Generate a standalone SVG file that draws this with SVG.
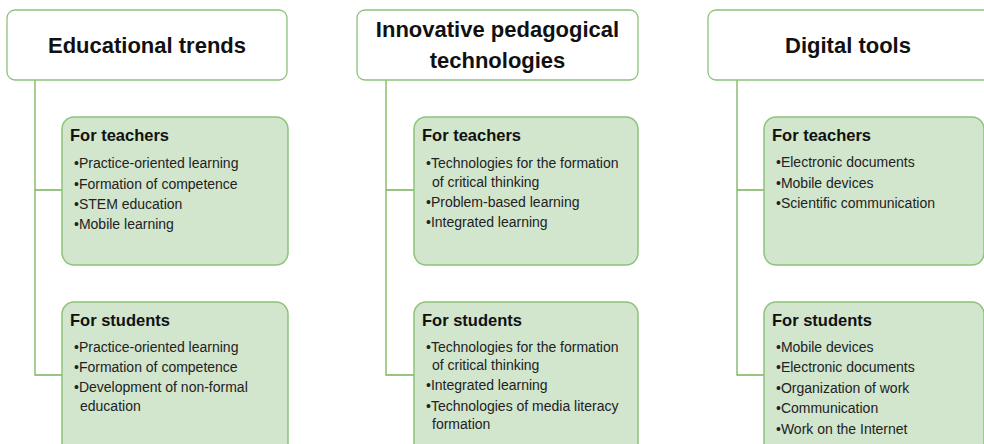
<svg xmlns="http://www.w3.org/2000/svg" width="984" height="444" viewBox="0 0 984 444">
<style>
.hdr{fill:#ffffff;stroke:#8cc27a;stroke-width:1.3}
.box{fill:#d2e5cd;stroke:#8cc27a;stroke-width:1.5}
.conn{fill:none;stroke:#78b35a;stroke-width:1.3}
.ht{font-family:"Liberation Sans",Arial,sans-serif;font-weight:bold;font-size:22px;fill:#111;text-anchor:middle}
.bt{font-family:"Liberation Sans",Arial,sans-serif;font-weight:bold;font-size:16.5px;fill:#111}
.it{font-family:"Liberation Sans",Arial,sans-serif;font-size:14px;fill:#222}
</style>
<rect width="984" height="444" fill="#ffffff"/>
<g id="connectors">
<path class="conn" d="M35 80 V375 H62 M35 190 H62"/>
<path class="conn" d="M386 80 V375 H414 M386 190 H414"/>
<path class="conn" d="M737 80 V375 H764 M737 190 H764"/>
</g>
<g id="h1">
<rect class="hdr" x="7" y="10" width="280" height="70" rx="8"/>
<text class="ht" x="147" y="53">Educational trends</text>
</g>
<g id="h2">
<rect class="hdr" x="357" y="10" width="281" height="70" rx="8"/>
<text class="ht" x="497.5" y="37">Innovative pedagogical</text>
<text class="ht" x="497.5" y="68">technologies</text>
</g>
<g id="h3">
<rect class="hdr" x="708" y="10" width="290" height="70" rx="8"/>
<text class="ht" x="848" y="53">Digital tools</text>
</g>
<g id="t1">
<rect class="box" x="62" y="117" width="226" height="148" rx="12"/>
<text class="bt" x="70" y="141">For teachers</text>
<text class="it" x="74" y="168">•Practice-oriented learning</text>
<text class="it" x="74" y="189">•Formation of competence</text>
<text class="it" x="74" y="209">•STEM education</text>
<text class="it" x="74" y="229">•Mobile learning</text>
</g>
<g id="s1">
<rect class="box" x="62" y="302" width="226" height="160" rx="12"/>
<text class="bt" x="70" y="326">For students</text>
<text class="it" x="74" y="352">•Practice-oriented learning</text>
<text class="it" x="74" y="372">•Formation of competence</text>
<text class="it" x="74" y="392">•Development of non-formal</text>
<text class="it" x="80" y="411">education</text>
</g>
<g id="t2">
<rect class="box" x="414" y="117" width="224" height="148" rx="12"/>
<text class="bt" x="422" y="141">For teachers</text>
<text class="it" x="426" y="168">•Technologies for the formation</text>
<text class="it" x="432" y="187">of critical thinking</text>
<text class="it" x="426" y="207">•Problem-based learning</text>
<text class="it" x="426" y="227">•Integrated learning</text>
</g>
<g id="s2">
<rect class="box" x="414" y="302" width="224" height="160" rx="12"/>
<text class="bt" x="422" y="326">For students</text>
<text class="it" x="426" y="352">•Technologies for the formation</text>
<text class="it" x="432" y="370">of critical thinking</text>
<text class="it" x="426" y="390">•Integrated learning</text>
<text class="it" x="426" y="411">•Technologies of media literacy</text>
<text class="it" x="432" y="429">formation</text>
</g>
<g id="t3">
<rect class="box" x="764" y="117" width="220" height="148" rx="12"/>
<text class="bt" x="772" y="141">For teachers</text>
<text class="it" x="776" y="167">•Electronic documents</text>
<text class="it" x="776" y="188">•Mobile devices</text>
<text class="it" x="776" y="208">•Scientific communication</text>
</g>
<g id="s3">
<rect class="box" x="764" y="302" width="220" height="160" rx="12"/>
<text class="bt" x="772" y="326">For students</text>
<text class="it" x="776" y="352">•Mobile devices</text>
<text class="it" x="776" y="372">•Electronic documents</text>
<text class="it" x="776" y="393">•Organization of work</text>
<text class="it" x="776" y="413">•Communication</text>
<text class="it" x="776" y="434">•Work on the Internet</text>
</g>
</svg>
